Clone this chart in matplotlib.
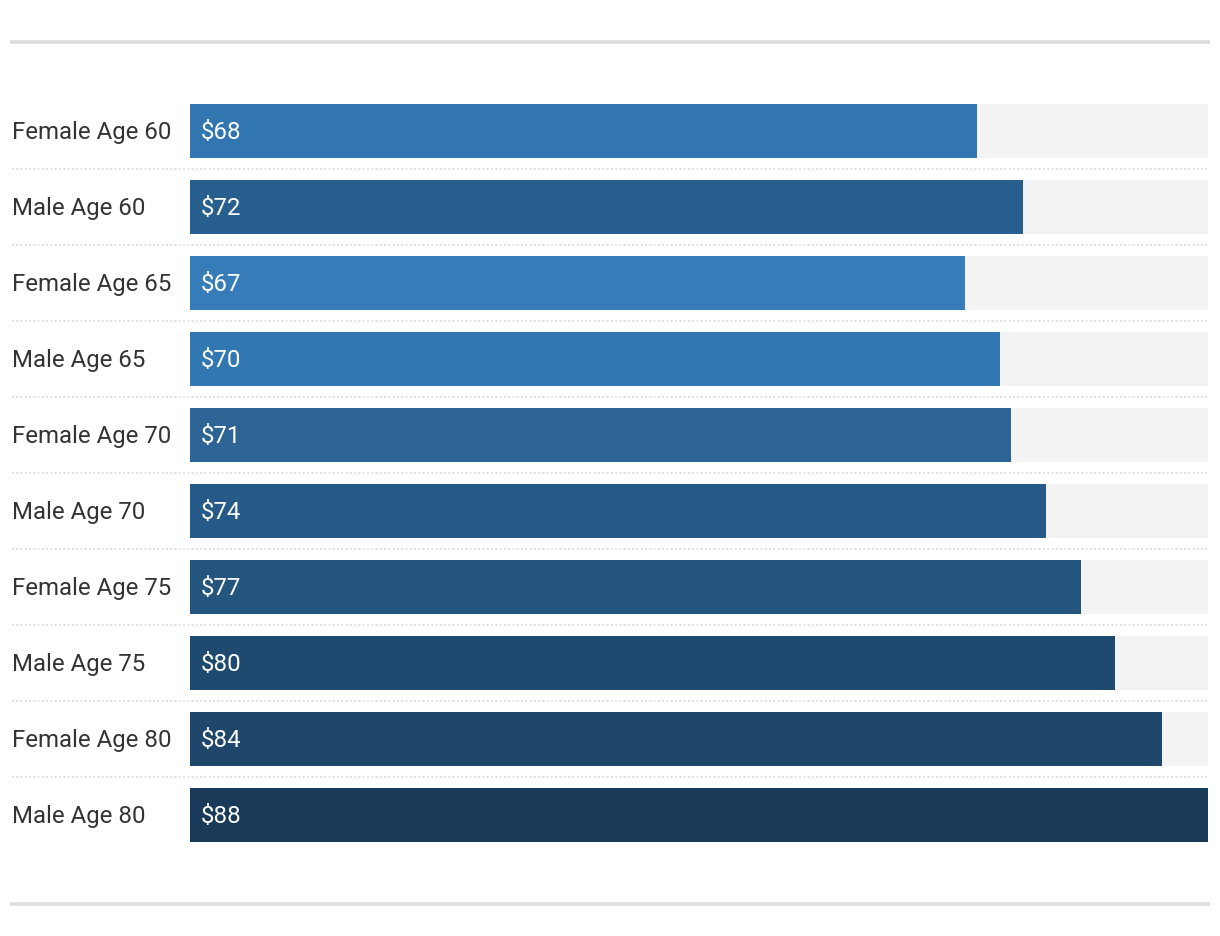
import matplotlib
matplotlib.use("Agg")
import matplotlib.pyplot as plt
from matplotlib.lines import Line2D
from matplotlib.transforms import blended_transform_factory

categories = ["Female Age 60", "Male Age 60", "Female Age 65", "Male Age 65",
              "Female Age 70", "Male Age 70", "Female Age 75", "Male Age 75",
              "Female Age 80", "Male Age 80"]
values = [68, 72, 67, 70, 71, 74, 77, 80, 84, 88]
value_labels = ["$68", "$72", "$67", "$70", "$71", "$74", "$77", "$80", "$84", "$88"]
bar_colors = ["#3276b1", "#275f8e", "#367cb8", "#3177b2", "#2c6496",
              "#265b89", "#23557f", "#1f4a70", "#1f466b", "#1a3a5a"]
track_max = 88

W, H = 1220, 936
fig = plt.figure(figsize=(W / 100, H / 100), dpi=100)
fig.patch.set_facecolor("white")

# axes region in pixels: x 190..1208, y rows 93..853
ax = fig.add_axes([190 / W, 1 - 853 / H, (1208 - 190) / W, (853 - 93) / H])
n = len(categories)
ax.set_xlim(0, track_max)
ax.set_ylim(n - 0.5, -0.5)
ax.axis("off")

ypos = list(range(n))
bh = 54 / 76
ax.barh(ypos, [track_max] * n, height=bh, color="#f3f3f3", zorder=1)
ax.barh(ypos, values, height=bh, color=bar_colors, zorder=2)

font = ["Roboto", "DejaVu Sans"]
trans = blended_transform_factory(ax.transAxes, ax.transData)
x_left = (12 - 190) / (1208 - 190)
dy = 1.5 / 76
for i, (cat, lab) in enumerate(zip(categories, value_labels)):
    ax.text(x_left, i + dy, cat, transform=trans, ha="left", va="center",
            fontsize=17.3, color="#333333", family=font, clip_on=False)
    ax.text(11 / (1208 - 190), i + dy, lab, transform=trans, ha="left", va="center",
            fontsize=17.3, color="white", family=font, zorder=3)

# dotted separators
for i in range(n - 1):
    ax.add_line(Line2D([x_left, 1.0], [i + 0.5, i + 0.5], transform=trans,
                       color="#d9d9d9", lw=1.1, linestyle=(0, (1.2, 1.6)),
                       clip_on=False, zorder=0))

# top and bottom rules
for yp in (42, 904):
    fig.add_artist(Line2D([10 / W, 1210 / W], [1 - yp / H, 1 - yp / H],
                          transform=fig.transFigure, color="#dddddd", lw=2.6,
                          solid_capstyle="butt"))

fig.savefig("out.png", dpi=100, facecolor="white")
